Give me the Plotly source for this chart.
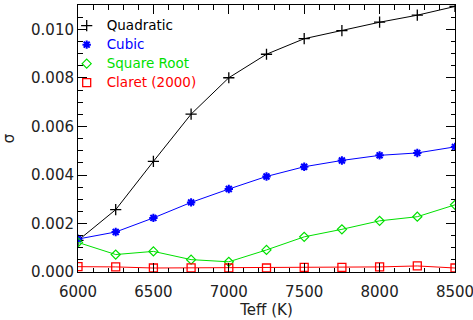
import plotly.graph_objects as go

teff = [6000, 6250, 6500, 6750, 7000, 7250, 7500, 7750, 8000, 8250, 8500]
quadratic = [0.00130, 0.00257, 0.00456, 0.00651, 0.00801, 0.00898, 0.00962, 0.00995, 0.01030, 0.01059, 0.01095]
cubic = [0.00136, 0.00165, 0.00223, 0.00287, 0.00342, 0.00394, 0.00434, 0.00460, 0.00481, 0.00491, 0.00516]
square_root = [0.00122, 0.00072, 0.00085, 0.00051, 0.00042, 0.00091, 0.00145, 0.00176, 0.00211, 0.00228, 0.00277]
claret = [0.00022, 0.00021, 0.000165, 0.00017, 0.000165, 0.000165, 0.00019, 0.00019, 0.00021, 0.00025, 0.000165]

series = [
    ("Quadratic", quadratic, "black", "cross-thin-open", 8, 1.3),
    ("Cubic", cubic, "blue", "asterisk-open", 7, 2),
    ("Square Root", square_root, "#00e000", "diamond-open", 7, 1.2),
    ("Claret (2000)", claret, "red", "square-open", 8, 1.3),
]

FONT = "DejaVu Sans"
fig = go.Figure()
for name, vals, col, sym, sz, lw in series:
    fig.add_trace(go.Scatter(
        x=teff, y=vals, mode="lines+markers", showlegend=False,
        line=dict(color=col, width=1),
        marker=dict(symbol=sym, size=sz, color=col, line=dict(color=col, width=lw)),
    ))
    fig.add_trace(go.Scatter(
        x=[None], y=[None], mode="markers",
        name=f'<span style="color:{col};font-size:13.5px">{name}</span>',
        marker=dict(symbol=sym, size=sz, color=col, line=dict(color=col, width=lw)),
    ))

axis_common = dict(
    showline=True, linecolor="black", linewidth=1, mirror="allticks",
    ticks="inside", tickcolor="black", tickwidth=1, ticklen=9,
    showgrid=False, zeroline=False, ticklabeloverflow="allow", automargin=False,
    tickfont=dict(family=FONT, size=15, color="#222"),
)

fig.update_xaxes(
    range=[6000, 8500], dtick=500, tick0=6000,
    minor=dict(dtick=100, ticks="inside", ticklen=4.5, tickcolor="black", showgrid=False),
    title=dict(text="Teff (K)", font=dict(family=FONT, size=15, color="#222"), standoff=4),
    ticklabelstandoff=6,
    **axis_common,
)
fig.update_yaxes(
    range=[0, 0.01101], dtick=0.002, tick0=0, tickformat=".3f",
    minor=dict(dtick=0.0005, ticks="inside", ticklen=4.5, tickcolor="black", showgrid=False),
    title=dict(text="σ", font=dict(family=FONT, size=15, color="#222"), standoff=18),
    **axis_common,
)

fig.update_layout(
    width=473, height=320,
    margin=dict(l=78, r=18, t=5, b=48),
    paper_bgcolor="white", plot_bgcolor="white",
    legend=dict(
        x=-0.030, y=0.977, xanchor="left", yanchor="top",
        bgcolor="rgba(0,0,0,0)", font=dict(family=FONT, size=12),
        tracegroupgap=0, itemwidth=30,
    ),
)

fig.write_html(
    "out.html",
    config={"displayModeBar": False},
    post_script="document.body.style.margin='0';document.body.style.overflow='hidden';",
)
